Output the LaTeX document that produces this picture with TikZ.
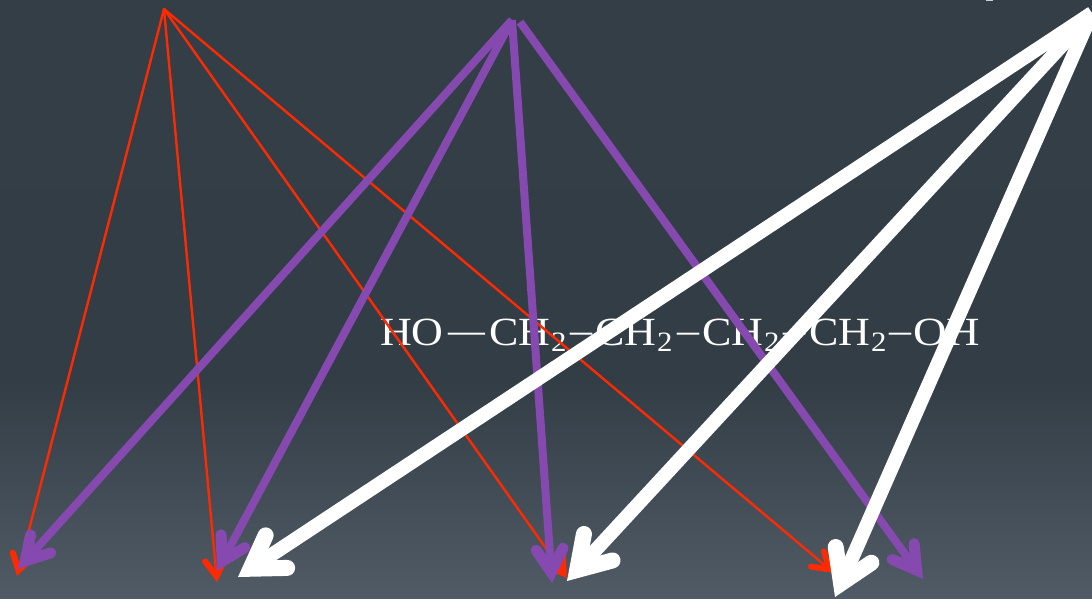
\documentclass[tikz,border=0pt]{standalone}
\usepackage{graphicx}
\usepackage{fontspec}
\setmainfont{Liberation Serif}
\usetikzlibrary{arrows.meta}
\definecolor{bgtop}{HTML}{333E47}
\definecolor{bgmid}{HTML}{323D46}
\definecolor{bgbot}{HTML}{505B65}
\definecolor{redline}{HTML}{FF2A00}
\definecolor{purpleline}{HTML}{8549B0}
\newcommand{\widetxt}[1]{\scalebox{1.1}[1]{#1}}
\tikzset{
  redarrow/.style={draw=redline,line width=2.4pt,line cap=round,
    -{Straight Barb[length=16pt,width=20pt,line width=6pt,line cap=round,line join=miter]}},
  purplearrow/.style={draw=purpleline,line width=8pt,line cap=butt,
    -{Straight Barb[length=23pt,width=27pt,line width=11pt,line cap=round,line join=miter]}},
  whitearrow/.style={draw=white,line width=14pt,line cap=butt,
    -{Straight Barb[length=31pt,width=39pt,line width=16pt,line cap=round,line join=miter]}},
  formula/.style={text=white,inner sep=0pt,anchor=base west,font=\fontsize{40}{40}\selectfont},
  subnum/.style={text=white,inner sep=0pt,anchor=base west,font=\fontsize{28}{28}\selectfont},
}
\begin{document}
\begin{tikzpicture}[x=1pt,y=-1pt]
\useasboundingbox (0,0) rectangle (1092,599);
\shade[top color=bgtop,bottom color=bgmid] (0,0) rectangle (1092,380.5);
\shade[top color=bgmid,bottom color=bgbot] (0,380) rectangle (1092,599);
\fill[white!75!bgtop] (986,0) rectangle (993,1.2);
% formula
\node[formula] (t1) at (380,345) {\widetxt{HO}};
\node[formula] (d1) at (448,343) {\scalebox{0.92}[1]{—}};
\node[formula] (t2) at (489,345) {\widetxt{CH}};
\node[subnum] (s2) at (551,351) {\widetxt{2}};
\node[formula] (d2) at (570,343) {\widetxt{–}};
\node[formula] (t3) at (595,345) {\widetxt{CH}};
\node[subnum] (s3) at (657,351) {\widetxt{2}};
\node[formula] (d3) at (677,343) {\widetxt{–}};
\node[formula] (t4) at (702,345) {\widetxt{CH}};
\node[subnum] (s4) at (764,351) {\widetxt{2}};
\node[formula] (d4) at (783,343) {\widetxt{–}};
\node[formula] (t5) at (809,345) {\widetxt{CH}};
\node[subnum] (s5) at (871,351) {\widetxt{2}};
\node[formula] (d5) at (889,343) {\widetxt{–}};
\node[formula] (t6) at (913,345) {\scalebox{1.16}[1]{OH}};
% ends
\coordinate (ra) at (164,9);
\coordinate (pa) at (512,20);
\coordinate (pb) at (520,22);
\coordinate (wa) at (1092,13);
\coordinate (r1) at (17,576);
\coordinate (r2) at (217,582);
\coordinate (r3) at (567,578);
\coordinate (r4) at (834,573);
\coordinate (p1) at (18,569);
\coordinate (p2) at (217,571);
\coordinate (p3) at (552,583);
\coordinate (p4) at (923,579);
\coordinate (w1) at (238,577);
\coordinate (w2) at (567,581);
\coordinate (w3) at (835,597);
% red
\draw[redarrow] (ra) -- (r1);
\draw[redarrow] (ra) -- (r2);
\draw[redarrow] (ra) -- (r3);
\draw[redarrow] (ra) -- (r4);
% purple
\draw[purplearrow] (pa) -- (p1);
\draw[purplearrow] (pa) -- (p2);
\draw[purplearrow] (pa) -- (p3);
\draw[purplearrow] (pb) -- (p4);
% white
\draw[whitearrow] (wa) -- (w1);
\draw[whitearrow] (wa) -- (w2);
\draw[whitearrow] (wa) -- (w3);
\end{tikzpicture}
\end{document}
